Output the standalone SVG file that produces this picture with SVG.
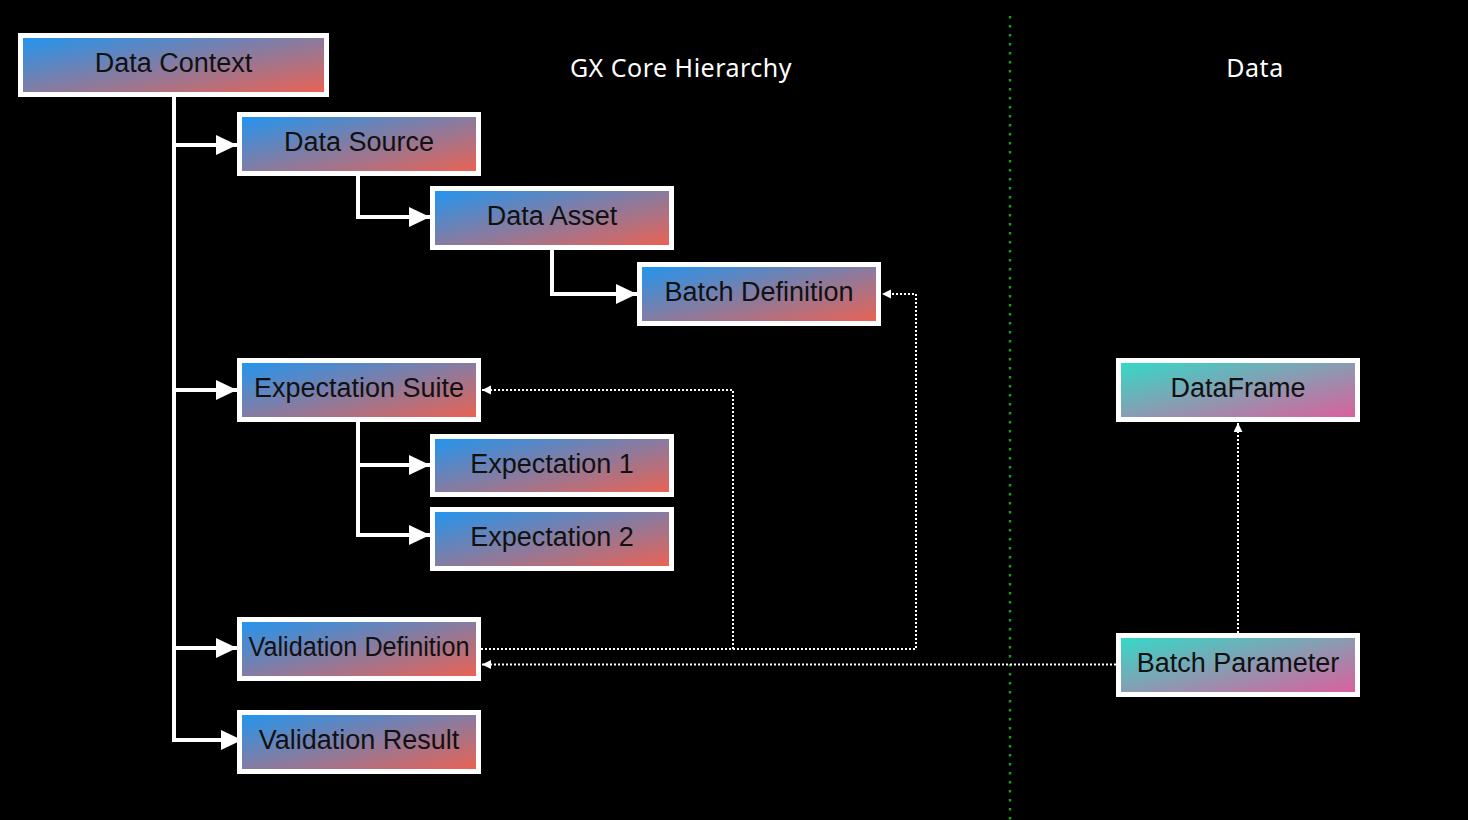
<svg xmlns="http://www.w3.org/2000/svg" width="1468" height="820" viewBox="0 0 1468 820">
<defs>
<linearGradient id="gBR" x1="0" y1="0" x2="1" y2="1">
<stop offset="0" stop-color="#1e96f2"/>
<stop offset="1" stop-color="#ef6150"/>
</linearGradient>
<linearGradient id="gTP" x1="0" y1="0" x2="1" y2="1">
<stop offset="0" stop-color="#30dcc8"/>
<stop offset="1" stop-color="#e05c9c"/>
</linearGradient>
<marker id="big" markerUnits="userSpaceOnUse" markerWidth="22" markerHeight="22" refX="21" refY="10" orient="auto">
<path d="M0,0 L21,10 L0,20 Z" fill="#fff"/>
</marker>
<marker id="small" markerUnits="userSpaceOnUse" markerWidth="10" markerHeight="10" refX="9" refY="4.5" orient="auto">
<path d="M0,0 L9,4.5 L0,9 Z" fill="#fff"/>
</marker>
<style>
.box rect{stroke:#fff;stroke-width:5}
.b rect{fill:url(#gBR)}
.t rect{fill:url(#gTP)}
.box text{font-family:"Liberation Sans",Arial,sans-serif;font-size:27px;fill:#111;text-anchor:middle}
.title{font-family:"Noto Sans","Open Sans",sans-serif;font-size:25px;fill:#fff;text-anchor:middle;letter-spacing:0.5px}
.solid{fill:none;stroke:#fff;stroke-width:4}
.dot{fill:none;stroke:#fff;stroke-width:2;stroke-dasharray:2 2}
</style>
</defs>
<rect width="1468" height="820" fill="#000"/>
<line x1="1010" y1="16" x2="1010" y2="820" stroke="#1f9d1f" stroke-width="2.5" stroke-dasharray="2.5 6.5"/>
<text class="title" x="681" y="77">GX Core Hierarchy</text>
<text class="title" x="1255" y="77">Data</text>
<g id="connectors">
<path class="solid" d="M174,97 V740 H242" marker-end="url(#big)"/>
<path class="solid" d="M174,145 H237" marker-end="url(#big)"/>
<path class="solid" d="M174,390 H237" marker-end="url(#big)"/>
<path class="solid" d="M174,648 H237" marker-end="url(#big)"/>
<path class="solid" d="M358,176 V217 H430" marker-end="url(#big)"/>
<path class="solid" d="M552,250 V294 H637" marker-end="url(#big)"/>
<path class="solid" d="M358,422 V535 H430" marker-end="url(#big)"/>
<path class="solid" d="M358,465 H430" marker-end="url(#big)"/>
<path class="dot" d="M481,649 H916 V294 H882" marker-end="url(#small)"/>
<path class="dot" d="M481,649 H733 V390 H482" marker-end="url(#small)"/>
<path class="dot" d="M1116,664.5 H482" marker-end="url(#small)"/>
<path class="dot" d="M1238,633 V423" marker-end="url(#small)"/>
</g>
<g id="data-context" class="box b"><rect x="20.5" y="35.5" width="306" height="59"/><text x="173.5" y="72">Data Context</text></g>
<g id="data-source" class="box b"><rect x="239.5" y="114.5" width="239" height="59"/><text x="359" y="151">Data Source</text></g>
<g id="data-asset" class="box b"><rect x="432.5" y="188.5" width="239" height="59"/><text x="552" y="225">Data Asset</text></g>
<g id="batch-definition" class="box b"><rect x="639.5" y="264.5" width="239" height="59"/><text x="759" y="301">Batch Definition</text></g>
<g id="expectation-suite" class="box b"><rect x="239.5" y="360.5" width="239" height="59"/><text x="359" y="397">Expectation Suite</text></g>
<g id="expectation-1" class="box b"><rect x="432.5" y="436.5" width="239" height="58"/><text x="552" y="472.5">Expectation 1</text></g>
<g id="expectation-2" class="box b"><rect x="432.5" y="509.5" width="239" height="59"/><text x="552" y="546">Expectation 2</text></g>
<g id="validation-definition" class="box b"><rect x="239.5" y="619.5" width="239" height="59"/><text x="359" y="656" textLength="221" lengthAdjust="spacingAndGlyphs">Validation Definition</text></g>
<g id="validation-result" class="box b"><rect x="239.5" y="712.5" width="239" height="59"/><text x="359" y="749">Validation Result</text></g>
<g id="dataframe" class="box t"><rect x="1118.5" y="360.5" width="239" height="59"/><text x="1238" y="397">DataFrame</text></g>
<g id="batch-parameter" class="box t"><rect x="1118.5" y="635.5" width="239" height="59"/><text x="1238" y="672">Batch Parameter</text></g>
</svg>
